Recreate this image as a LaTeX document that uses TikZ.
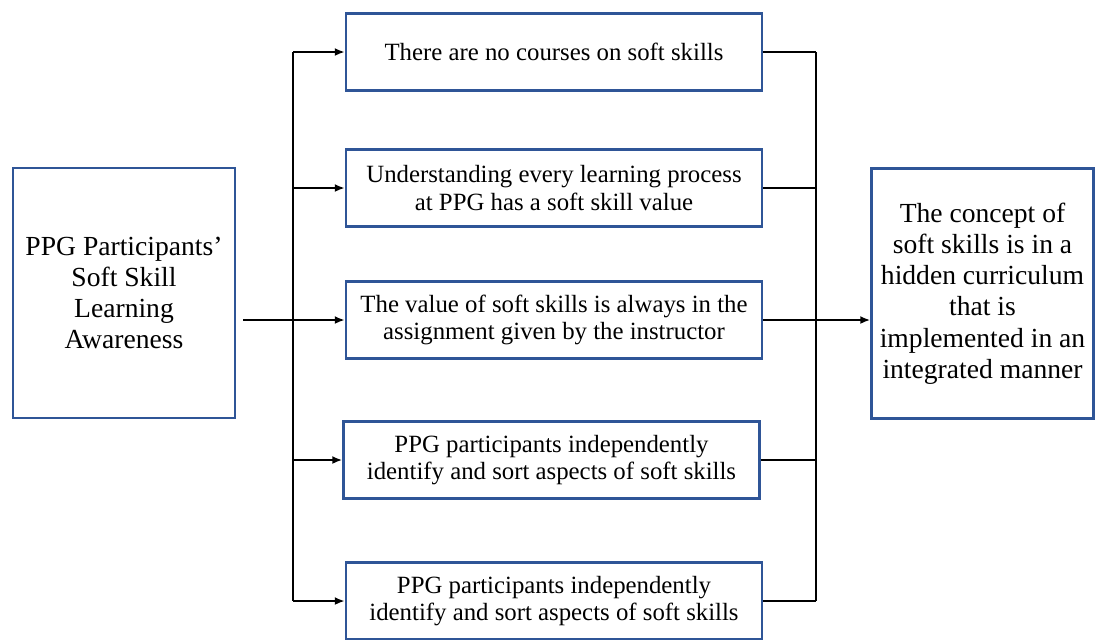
\documentclass[tikz,border=0pt]{standalone}
\usepackage{fontspec}
\setmainfont{Liberation Serif}
\usetikzlibrary{arrows.meta}
\definecolor{boxblue}{RGB}{47,85,151}

\begin{document}
\begin{tikzpicture}[x=0.5pt,y=-0.5pt,
  box/.style={draw=boxblue,line width=1.2pt,align=center,inner sep=0pt,
    minimum width=208pt,minimum height=38.5pt,
    font=\fontsize{12.4}{13.8}\selectfont},
  side/.style={box,minimum width=111pt,minimum height=125pt,
    font=\fontsize{13.8}{15.6}\selectfont},
  link/.style={line width=1.2pt},
  arrow/.style={link,-{Latex[length=5pt,width=4pt]}}]

\useasboundingbox (0,0) rectangle (1096,639);

\coordinate (busl) at (293,0);
\coordinate (busr) at (816,0);

\node[side] (aware) at (124,293) {PPG Participants’\\Soft Skill\\Learning\\Awareness};
\node[side] (concept) at (982.5,293.5) {The concept of\\soft skills is in a\\hidden curriculum\\that is\\implemented in an\\integrated manner};

\node[box] (hid1) at (554,52) {There are no courses on soft skills};
\node[box] (hid2) at (554,188) {Understanding every learning process\\at PPG has a soft skill value};
\node[box] (hid3) at (554,320) {The value of soft skills is always in the\\assignment given by the instructor};
\node[box] (hid4) at (551.5,460) {PPG participants independently\\identify and sort aspects of soft skills};
\node[box] (hid5) at (554,601) {PPG participants independently\\identify and sort aspects of soft skills};

% left bus
\draw[link] (busl |- hid1.west) -- (busl |- hid5.west);
\draw[arrow] ([xshift=3.5pt]aware.east |- hid3.west) -- (hid3.west);
\foreach \i in {1,2,4,5}
  \draw[arrow] (busl |- hid\i.west) -- (hid\i.west);

% right bus
\draw[link] (busr |- hid1.east) -- (busr |- hid5.east);
\foreach \i in {1,2,4,5}
  \draw[link] (hid\i.east) -- (busr |- hid\i.east);
\draw[arrow] (hid3.east) -- (hid3.east -| concept.west);

\end{tikzpicture}
\end{document}
